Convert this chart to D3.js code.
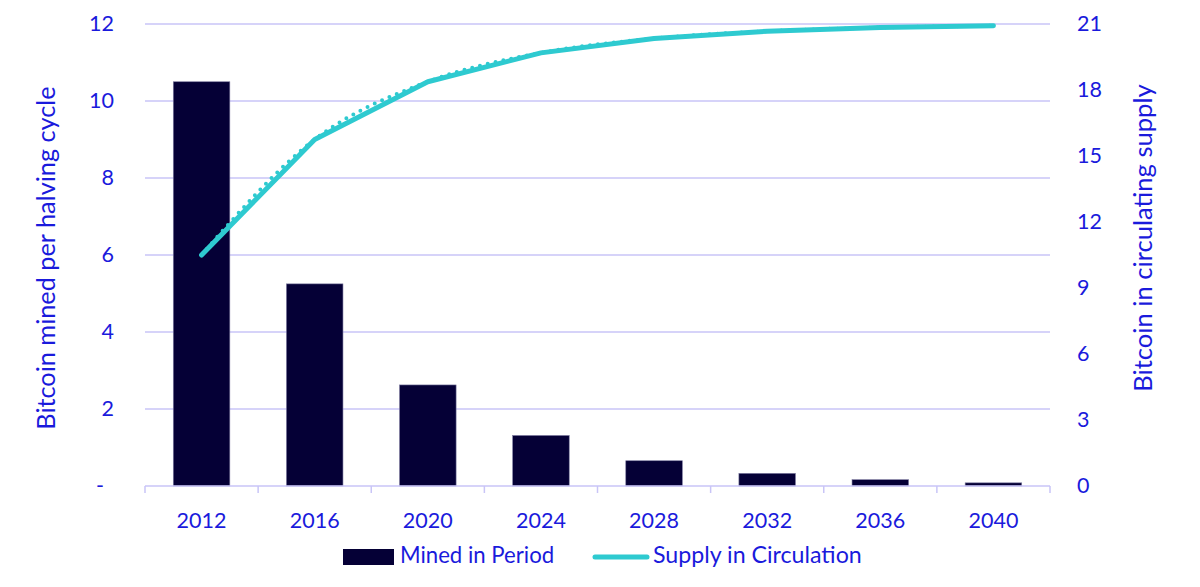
<!DOCTYPE html>
<html><head><meta charset="utf-8">
<script src="https://cdn.jsdelivr.net/npm/d3@7"></script>
<style>body{margin:0;background:#fff}svg{display:block}text{font-family:"Source Sans Pro",Lato,"Noto Sans",sans-serif}</style>
</head><body><svg id="c" width="1200" height="587"></svg>
<script>
const years = ["2012","2016","2020","2024","2028","2032","2036","2040"];
const mined = [10.5, 5.25, 2.625, 1.3125, 0.656, 0.328, 0.164, 0.082];
const supply = [10.5, 15.75, 18.375, 19.6875, 20.34, 20.67, 20.84, 20.92];
const leftTicks = [0, 2, 4, 6, 8, 10, 12];
const rightTicks = [0, 3, 6, 9, 12, 15, 18, 21];

const svg = d3.select("#c");
const L = 145, R = 1050, T = 24, B = 486;
const txt = "#1a1adc", grid = "#c9c5f7", barC = "#050036", lineC = "#2ecad0";

const x = d3.scaleBand().domain(years).range([L, R]).paddingInner(0.5).paddingOuter(0.25);
const xb = d3.scaleBand().domain(years).range([L, R]);
const yL = d3.scaleLinear().domain([0, 12]).range([B, T]);
const yR = d3.scaleLinear().domain([0, 21]).range([B, T]);

// gridlines
svg.append("g").selectAll("line").data(leftTicks.filter(d => d > 0)).join("line")
  .attr("x1", L).attr("x2", R).attr("y1", d => yL(d)).attr("y2", d => yL(d))
  .attr("stroke", grid).attr("stroke-width", 1.5);

// bars
svg.append("g").selectAll("rect").data(years).join("rect")
  .attr("x", d => x(d)).attr("width", x.bandwidth())
  .attr("y", (d, i) => yL(mined[i])).attr("height", (d, i) => B - yL(mined[i]))
  .attr("fill", barC).attr("stroke", "#7d7aa0").attr("stroke-width", 0.6);

// bottom axis
const ax = svg.append("g");
ax.append("line").attr("x1", L).attr("x2", R).attr("y1", B).attr("y2", B).attr("stroke", grid).attr("stroke-width", 1.5);
const bounds = years.map(d => xb(d)).concat([R]);
ax.selectAll("line.t").data(bounds).join("line").attr("class", "t")
  .attr("x1", d => d).attr("x2", d => d).attr("y1", B).attr("y2", B + 7)
  .attr("stroke", grid).attr("stroke-width", 1.5);
ax.selectAll("text").data(years).join("text")
  .attr("x", d => xb(d) + xb.bandwidth() / 2).attr("y", 528)
  .attr("text-anchor", "middle").attr("fill", txt).attr("font-size", 21.5).text(d => d);

// left ticks
svg.append("g").selectAll("text").data(leftTicks).join("text")
  .attr("x", d => d === 0 ? 104 : 114).attr("y", d => yL(d) + 7)
  .attr("text-anchor", "end").attr("fill", txt).attr("font-size", 21.5)
  .text(d => d === 0 ? "-" : d);
// right ticks
svg.append("g").selectAll("text").data(rightTicks).join("text")
  .attr("x", 1077).attr("y", d => yR(d) + 7)
  .attr("text-anchor", "start").attr("fill", txt).attr("font-size", 21.5).text(d => d);

// axis titles
svg.append("text").attr("transform", "translate(55,258) rotate(-90)")
  .attr("text-anchor", "middle").attr("fill", txt).attr("font-size", 25.3).text("Bitcoin mined per halving cycle");
svg.append("text").attr("transform", "translate(1152,238) rotate(-90)")
  .attr("text-anchor", "middle").attr("fill", txt).attr("font-size", 25.6).text("Bitcoin in circulating supply");

// lines
const cx = d => xb(d) + xb.bandwidth() / 2;
const pts = years.map((d, i) => [cx(d), yR(supply[i])]);
svg.append("path").attr("d", d3.line().curve(d3.curveMonotoneX)(pts))
  .attr("fill", "none").attr("stroke", lineC).attr("stroke-width", 4)
  .attr("stroke-linecap", "round").attr("stroke-dasharray", "0 8");
svg.append("path").attr("d", d3.line()(pts))
  .attr("fill", "none").attr("stroke", lineC).attr("stroke-width", 5)
  .attr("stroke-linecap", "round").attr("stroke-linejoin", "round");

// legend
const lg = svg.append("g");
lg.append("rect").attr("x", 343).attr("y", 549).attr("width", 51).attr("height", 16).attr("fill", barC);
lg.append("text").attr("x", 400).attr("y", 563).attr("fill", txt).attr("font-size", 22.2).text("Mined in Period");
lg.append("line").attr("x1", 595).attr("x2", 647).attr("y1", 557).attr("y2", 557)
  .attr("stroke", lineC).attr("stroke-width", 5).attr("stroke-linecap", "round");
lg.append("text").attr("x", 653).attr("y", 563).attr("fill", txt).attr("font-size", 23.2).text("Supply in Circulation");
</script></body></html>
